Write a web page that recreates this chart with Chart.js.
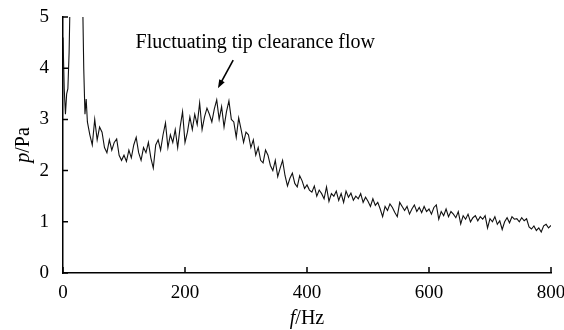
<!DOCTYPE html>
<html>
<head>
<meta charset="utf-8">
<script src="https://cdn.jsdelivr.net/npm/chart.js@4"></script>
<style>
  html, body { margin: 0; padding: 0; background: #fff; }
  #wrap { width: 564px; height: 330px; }
</style>
</head>
<body>
<div id="wrap"><canvas id="myChart"></canvas></div>
<script>
// frequency (Hz)
const freq = [0, 2, 4, 6, 8, 10, 12, 16, 20, 24, 28, 32, 34, 36, 38,
  40, 44, 48, 52, 56, 60, 64, 68, 72, 76,
  80, 84, 88, 92, 96, 100, 104, 108, 112, 116,
  120, 124, 128, 132, 136, 140, 144, 148, 152, 156,
  160, 164, 168, 172, 176, 180, 184, 188, 192, 196,
  200, 204, 208, 212, 216, 220, 224, 228, 232, 236,
  240, 244, 248, 252, 256, 260, 264, 268, 272, 276,
  280, 284, 288, 292, 296, 300, 304, 308, 312, 316,
  320, 324, 328, 332, 336, 340, 344, 348, 352, 356,
  360, 364, 368, 372, 376, 380, 384, 388, 392, 396,
  400, 404, 408, 412, 416, 420, 424, 428, 432, 436,
  440, 444, 448, 452, 456, 460, 464, 468, 472, 476,
  480, 484, 488, 492, 496, 500, 504, 508, 512, 516,
  520, 524, 528, 532, 536, 540, 544, 548, 552, 556,
  560, 564, 568, 572, 576, 580, 584, 588, 592, 596,
  600, 604, 608, 612, 616, 620, 624, 628, 632, 636,
  640, 644, 648, 652, 656, 660, 664, 668, 672, 676,
  680, 684, 688, 692, 696, 700, 704, 708, 712, 716,
  720, 724, 728, 732, 736, 740, 744, 748, 752, 756,
  760, 764, 768, 772, 776, 780, 784, 788, 792, 796,
  800];

// pressure amplitude (Pa)
const pres = [4.6, 3.6, 3.1, 3.5, 3.6, 4.3, 5.6, 7, 8, 8, 7, 5.5, 4.0, 3.1, 3.4,
  2.95, 2.7, 2.5, 3.0, 2.6, 2.85, 2.75, 2.45, 2.35, 2.6,
  2.4, 2.55, 2.62, 2.3, 2.2, 2.3, 2.18, 2.4, 2.25, 2.5,
  2.65, 2.35, 2.2, 2.45, 2.35, 2.55, 2.25, 2.05, 2.5, 2.6,
  2.4, 2.7, 2.93, 2.45, 2.7, 2.55, 2.8, 2.45, 2.85, 3.15,
  2.55, 2.75, 3.05, 2.8, 3.1, 2.9, 3.32, 2.8, 3.05, 3.22,
  3.1, 2.95, 3.2, 3.38, 3.0, 3.25, 2.85, 3.15, 3.36, 3.0,
  2.95, 2.65, 3.03, 2.8, 2.55, 2.75, 2.7, 2.45, 2.6, 2.3,
  2.45, 2.2, 2.15, 2.4, 2.3, 2.1, 2.0, 2.2, 1.88, 2.05,
  2.2, 1.9, 1.7, 1.85, 1.95, 1.75, 1.68, 1.9, 1.8, 1.65,
  1.72, 1.62, 1.58, 1.7, 1.5, 1.62, 1.55, 1.45, 1.68, 1.4,
  1.55, 1.5, 1.6, 1.42, 1.55, 1.38, 1.6, 1.48, 1.56, 1.42,
  1.5, 1.45, 1.55, 1.38, 1.48, 1.4, 1.3, 1.45, 1.32, 1.38,
  1.25, 1.1, 1.3, 1.22, 1.35, 1.28, 1.18, 1.1, 1.38, 1.3,
  1.22, 1.3, 1.15, 1.25, 1.33, 1.2, 1.28, 1.18, 1.3, 1.2,
  1.25, 1.15, 1.28, 1.33, 1.05, 1.2, 1.12, 1.25, 1.1, 1.2,
  1.15, 1.08, 1.2, 0.96, 1.12, 1.05, 1.15, 1.0, 1.08, 1.12,
  1.02, 1.1, 1.05, 1.12, 0.88, 1.06, 1.0, 1.1, 0.95, 1.02,
  0.85, 1.0, 1.08, 0.98, 1.1, 1.05, 1.06, 1.0, 1.08, 1.02,
  1.06, 0.9, 0.86, 0.92, 0.83, 0.88, 0.8, 0.92, 0.95, 0.88,
  0.93];

const xTicks = [0, 200, 400, 600, 800];
const yTicks = [0, 1, 2, 3, 4, 5];

const serif = "'Liberation Serif', 'Times New Roman', serif";

// inward ticks, axis titles and the annotation
const decor = {
  id: 'decor',
  afterDraw(chart) {
    const { ctx, chartArea: a } = chart;
    const x = chart.scales.x, y = chart.scales.y;
    ctx.save();
    ctx.strokeStyle = '#000';
    ctx.lineWidth = 1.5;
    ctx.beginPath();
    yTicks.forEach(v => {
      const py = y.getPixelForValue(v);
      ctx.moveTo(a.left, py); ctx.lineTo(a.left + 5, py);
    });
    xTicks.forEach(v => {
      const px = x.getPixelForValue(v);
      ctx.moveTo(px, a.bottom); ctx.lineTo(px, a.bottom - 6);
    });
    ctx.stroke();

    // x title  f/Hz
    ctx.fillStyle = '#000';
    ctx.textBaseline = 'middle';
    const cx = (a.left + a.right) / 2;
    ctx.font = 'italic 20px ' + serif;
    const wf = ctx.measureText('f').width;
    ctx.font = '20px ' + serif;
    const wr = ctx.measureText('/Hz').width;
    let sx = cx - (wf + wr) / 2;
    ctx.font = 'italic 20px ' + serif;
    ctx.textAlign = 'left';
    ctx.fillText('f', sx, 319);
    ctx.font = '20px ' + serif;
    ctx.fillText('/Hz', sx + wf, 319);

    // y title  p/Pa
    ctx.save();
    ctx.translate(24, (a.top + a.bottom) / 2);
    ctx.rotate(-Math.PI / 2);
    ctx.font = 'italic 20px ' + serif;
    const wp = ctx.measureText('p').width;
    ctx.font = '20px ' + serif;
    const wpa = ctx.measureText('/Pa').width;
    sx = -(wp + wpa) / 2;
    ctx.font = 'italic 20px ' + serif;
    ctx.fillText('p', sx, 0);
    ctx.font = '20px ' + serif;
    ctx.fillText('/Pa', sx + wp, 0);
    ctx.restore();

    // annotation
    ctx.font = '20px ' + serif;
    ctx.textAlign = 'left';
    ctx.fillText('Fluctuating tip clearance flow', x.getPixelForValue(119), y.getPixelForValue(4.5));

    const x0 = x.getPixelForValue(279), y0 = y.getPixelForValue(4.16);
    const x1 = x.getPixelForValue(254), y1 = y.getPixelForValue(3.61);
    const ang = Math.atan2(y1 - y0, x1 - x0);
    const hl = 9;
    ctx.lineWidth = 1.6;
    ctx.beginPath();
    ctx.moveTo(x0, y0);
    ctx.lineTo(x1 - Math.cos(ang) * hl * 0.7, y1 - Math.sin(ang) * hl * 0.7);
    ctx.stroke();
    ctx.beginPath();
    ctx.moveTo(x1, y1);
    ctx.lineTo(x1 - hl * Math.cos(ang - 0.35), y1 - hl * Math.sin(ang - 0.35));
    ctx.lineTo(x1 - hl * Math.cos(ang + 0.35), y1 - hl * Math.sin(ang + 0.35));
    ctx.closePath();
    ctx.fill();
    ctx.restore();
  }
};

const config = {
  type: 'line',
  data: {
    datasets: [{
      data: freq.map((f, i) => ({ x: f, y: pres[i] })),
      borderColor: '#111',
      borderWidth: 1.1,
      pointRadius: 0,
      tension: 0,
      fill: false
    }]
  },
  options: {
    responsive: true,
    maintainAspectRatio: false,
    animation: false,
    layout: { padding: { top: 17, right: 13, left: 0, bottom: 0 } },
    plugins: { legend: { display: false }, tooltip: { enabled: false } },
    scales: {
      x: {
        type: 'linear',
        min: 0, max: 800,
        afterBuildTicks: s => { s.ticks = xTicks.map(v => ({ value: v })); },
        afterFit: s => { s.height = 57; s.paddingLeft = 0; s.paddingRight = 0; },
        grid: { display: false },
        border: { display: true, color: '#000', width: 1.5 },
        ticks: { color: '#000', padding: 1, maxRotation: 0, font: { family: serif, size: 19 } }
      },
      y: {
        min: 0, max: 5,
        afterBuildTicks: s => { s.ticks = yTicks.map(v => ({ value: v })); },
        afterFit: s => { s.width = 63; s.paddingTop = 0; s.paddingBottom = 0; },
        grid: { display: false },
        border: { display: true, color: '#000', width: 1.5 },
        ticks: { color: '#000', padding: 6, font: { family: serif, size: 19 } }
      }
    }
  },
  plugins: [decor]
};

const myChart = new Chart(document.getElementById('myChart'), config);
</script>
</body>
</html>
